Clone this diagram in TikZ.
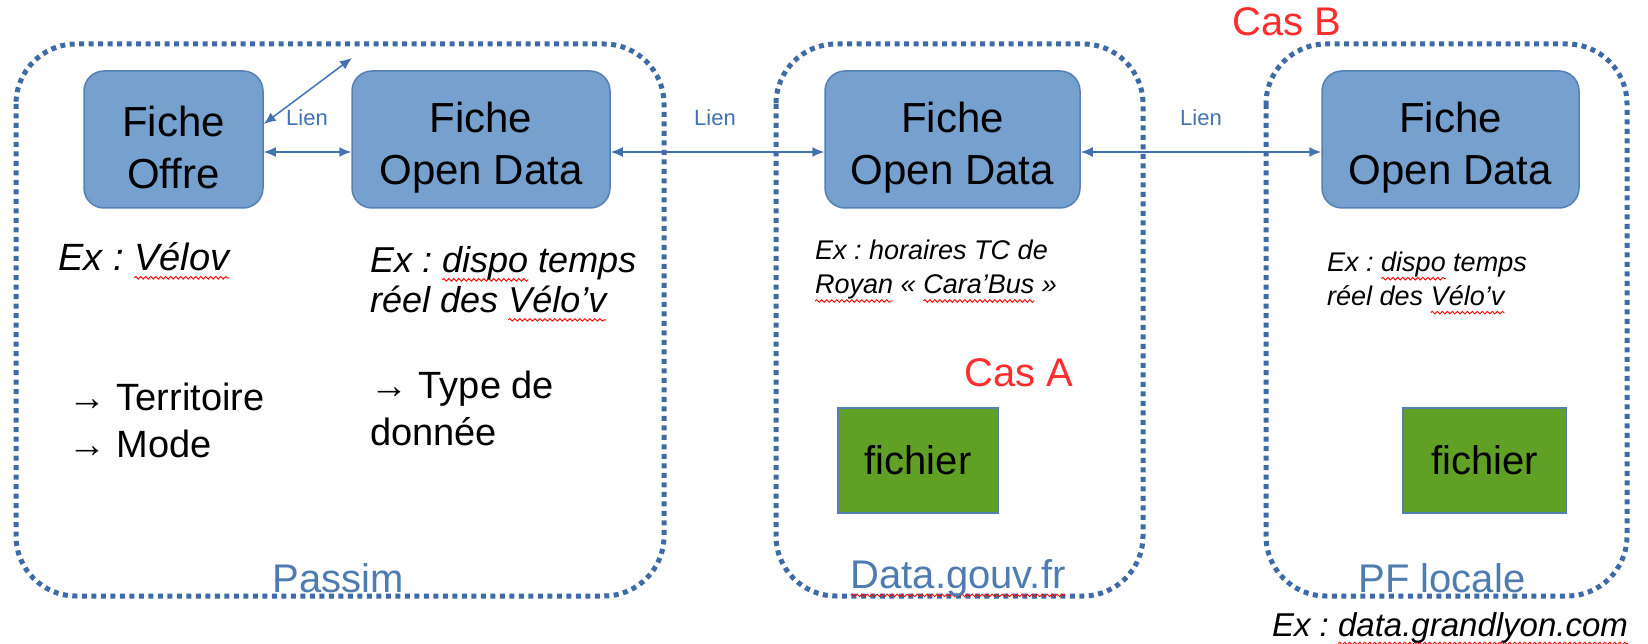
\documentclass[tikz,border=0pt]{standalone}
\usepackage{fontspec}
\setmainfont{Liberation Sans}
\usetikzlibrary{arrows.meta,decorations.pathmorphing}
\frenchspacing
\definecolor{boxfill}{RGB}{118,160,206}
\definecolor{boxline}{RGB}{86,128,180}
\definecolor{dotc}{RGB}{62,106,166}
\definecolor{linkc}{RGB}{68,114,176}
\definecolor{filegreen}{RGB}{96,160,36}
\definecolor{casred}{RGB}{255,45,45}
\definecolor{lbl}{RGB}{79,124,176}
\newlength\swlen
\newcommand\spellwave[1]{\settowidth\swlen{#1}\rlap{\tikz[overlay,x=1pt,y=1pt]\draw[red,line width=0.9pt,decorate,decoration={snake,amplitude=1.3pt,segment length=5pt}] (0,-7) -- ++(\swlen,0);}#1}
\tikzset{
  fiche/.style={draw=boxline, line width=1.5pt, fill=boxfill, rounded corners=20pt,
    minimum height=137pt, inner sep=0pt},
  fichetext/.style={align=center, inner sep=0pt, font=\fontsize{42}{52}\selectfont},
  fichierbox/.style={draw=boxline, line width=1.5pt, fill=filegreen,
    minimum width=160pt, minimum height=105pt, inner sep=0pt,
    font=\fontsize{40}{48}\selectfont},
  container/.style={draw=dotc, line width=5pt, dash pattern=on 5pt off 4.5pt, rounded corners=60pt},
  conn/.style={draw=linkc, line width=1.5pt, {Latex[length=12pt,width=10pt]}-{Latex[length=12pt,width=10pt]}},
  lien/.style={text=linkc, font=\fontsize{22}{26}\selectfont, inner sep=0pt},
  cas/.style={text=casred, font=\fontsize{40}{48}\selectfont, inner sep=0pt},
  place/.style={text=lbl, font=\fontsize{40}{48}\selectfont, inner sep=0pt},
  exbig/.style={anchor=west, align=left, inner sep=0pt, font=\fontsize{36}{40}\selectfont\itshape},
  exsmall/.style={anchor=west, align=left, inner sep=0pt, font=\fontsize{27}{34}\selectfont\itshape},
  attr/.style={anchor=west, align=left, inner sep=0pt, font=\fontsize{38}{47}\selectfont},
}
\begin{document}
\begin{tikzpicture}[x=1pt,y=-1pt]
\useasboundingbox[fill=white] (0,0) rectangle (1648,644);
% containers
\draw[container] (16,44) rectangle (664,596);
\draw[container] (776,44) rectangle (1143,596);
\draw[container] (1266,44) rectangle (1627,596);
% fiche boxes
\node[fiche, minimum width=179pt] (offre) at (173.5,139.5) {};
\node[fiche, minimum width=258pt] (od1) at (481,139.5) {};
\node[fiche, minimum width=255pt] (od2) at (952.5,139.5) {};
\node[fiche, minimum width=257pt] (od3) at (1450.5,139.5) {};
\node[fichetext] (offret) at ([yshift=-8pt]offre.center) {Fiche\\Offre};
\node[fichetext] (od1t) at ([yshift=-8pt]od1.center) {Fiche\\Open Data};
\node[fichetext] (od2t) at ([yshift=-8pt]od2.center) {Fiche\\Open Data};
\node[fichetext] (od3t) at ([yshift=-8pt]od3.center) {Fiche\\Open Data};
% fichier boxes
\node[fichierbox] (f1) at (918,460.5) {fichier};
\node[fichierbox, minimum width=163pt] (f2) at (1484.5,460.5) {fichier};
% connectors
\coordinate (lienend) at (352,58);
\draw[conn] ([yshift=15.5pt]offre.east) -- (lienend);
\draw[conn] ([yshift=-12.5pt]offre.east) -- ([yshift=-12.5pt]od1.west);
\draw[conn] ([yshift=-12.5pt]od1.east) -- ([yshift=-12.5pt]od2.west);
\draw[conn] ([yshift=-12.5pt]od2.east) -- ([yshift=-12.5pt]od3.west);
% link labels
\node[lien] (l1) at (307,118) {Lien};
\node[lien] (l2) at (715,118) {Lien};
\node[lien] (l3) at (1201,118) {Lien};
% case labels
\node[cas] (casb) at (1287,22) {Cas B};
\node[cas] (casa) at (1019,373) {Cas A};
% container labels
\node[place] (passim) at (338,578) {Passim};
\node[place] (dgouv) at (958,578) {\spellwave{Data.gouv.fr}};
\node[place] (pfloc) at (1442,578) {PF locale};
% examples
\node[exbig, font=\fontsize{38}{40}\selectfont\itshape] (ex1) at (58,257) {Ex : \spellwave{Vélov}};
\node[exbig] (ex2) at (370,280) {Ex : \spellwave{dispo} temps\\réel des \spellwave{Vélo’v}};
\node[exsmall] (ex3) at (815,270) {Ex : horaires TC de\\\spellwave{Royan} « \spellwave{Cara’Bus} »};
\node[exsmall] (ex4) at (1327,279) {Ex : \spellwave{dispo} temps\\réel des \spellwave{Vélo’v}};
\node[exbig, font=\fontsize{33}{40}\selectfont\itshape, anchor=center] (ex5) at (1450,628) {Ex : \spellwave{data.grandlyon.com}};
% attributes
\node[attr] (a1) at (68,420) {→ Territoire\\→ Mode};
\node[attr] (a2) at (370,408) {→ Type de\\donnée};
\end{tikzpicture}
\end{document}
